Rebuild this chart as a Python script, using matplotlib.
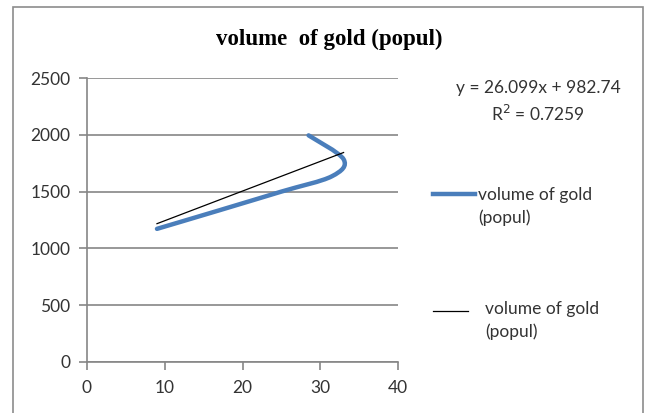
import matplotlib
matplotlib.use("Agg")
import matplotlib.pyplot as plt
from matplotlib.path import Path
from matplotlib.patches import PathPatch, Rectangle
from matplotlib.lines import Line2D
import numpy as np

# data (population vs volume of gold)
popul = [9, 17, 25, 31.5, 33, 28.5]
gold = [1172, 1335, 1500, 1635, 1785, 1995]

# linear trendline shown on the chart
trend_slope = 26.099
trend_intercept = 982.74
trend_r2 = 0.7259

series_label = "volume of gold\n(popul)"
title = "volume  of gold (popul)"
x_ticks = [0, 10, 20, 30, 40]
y_ticks = [0, 500, 1000, 1500, 2000, 2500]

W, H = 646, 413
fig = plt.figure(figsize=(W / 100, H / 100), dpi=100)
ax = fig.add_axes([87 / W, 1 - 362 / H, (398 - 87) / W, (362 - 78) / H])

txt_font = "Lato"
grey = "#868686"
txt_col = "#333333"
fs = 12.5


def smooth_path(xs, ys):
    # excel-like smoothed line: catmull-rom converted to cubic bezier
    pts = np.column_stack([xs, ys]).astype(float)
    n = len(pts)
    verts = [pts[0]]
    codes = [Path.MOVETO]
    for i in range(n - 1):
        p0 = pts[i - 1] if i > 0 else pts[i]
        p1 = pts[i]
        p2 = pts[i + 1]
        p3 = pts[i + 2] if i + 2 < n else pts[i + 1]
        c1 = p1 + (p2 - p0) / 6
        c2 = p2 - (p3 - p1) / 6
        verts += [c1, c2, p2]
        codes += [Path.CURVE4] * 3
    return Path(verts, codes)


ax.add_patch(PathPatch(smooth_path(popul, gold), fill=False, edgecolor="#4a7ebb",
                       lw=3.2, capstyle="round", joinstyle="round", zorder=3))

tx = np.array([min(popul), max(popul)])
ax.plot(tx, trend_slope * tx + trend_intercept, color="black", lw=0.9, zorder=4)

ax.set_xlim(0, 40)
ax.set_ylim(0, 2500)
ax.set_xticks(x_ticks)
ax.set_yticks(y_ticks)
ax.grid(axis="y", color=grey, lw=1.2)
ax.set_axisbelow(True)
for s in ["top", "right"]:
    ax.spines[s].set_visible(False)
for s in ["left", "bottom"]:
    ax.spines[s].set_color(grey)
    ax.spines[s].set_linewidth(1.2)
ax.tick_params(length=6, width=1.2, color=grey, labelcolor=txt_col, labelsize=fs)
ax.tick_params(axis="x", pad=7)
ax.tick_params(axis="y", pad=6)
for lab in ax.get_xticklabels() + ax.get_yticklabels():
    lab.set_fontfamily(txt_font)

fig.text(329 / W, 1 - 39 / H, title, ha="center", va="center",
         fontfamily="Liberation Serif", fontweight="bold", fontsize=16.5, color="black")

fig.text(538 / W, 1 - 88 / H, f"y = {trend_slope}x + {trend_intercept}", ha="center",
         va="center", fontfamily=txt_font, fontsize=fs, color=txt_col)
fig.text(538 / W, 1 - 114 / H, f"R$^2$ = {trend_r2}", ha="center",
         va="center", fontfamily=txt_font, fontsize=fs, color=txt_col)

# legend drawn by hand to mimic the excel layout
fig.add_artist(Line2D([433 / W, 475 / W], [1 - 194 / H] * 2, color="#4a7ebb", lw=3.2,
                      transform=fig.transFigure))
fig.text(478 / W, 1 - 187 / H, series_label, ha="left", va="top", linespacing=1.45,
         fontfamily=txt_font, fontsize=fs, color=txt_col)
fig.add_artist(Line2D([433 / W, 468 / W], [1 - 311 / H] * 2, color="black", lw=0.9,
                      transform=fig.transFigure))
fig.text(485 / W, 1 - 301 / H, series_label, ha="left", va="top", linespacing=1.45,
         fontfamily=txt_font, fontsize=fs, color=txt_col)

# outer chart frame
fig.add_artist(Rectangle((12.5 / W, -0.1), (643 - 12.5) / W, 1.1 - 6.5 / H, fill=False,
                         edgecolor="#8c8c8c", lw=1.2, transform=fig.transFigure))

fig.savefig("out.png", dpi=100)
